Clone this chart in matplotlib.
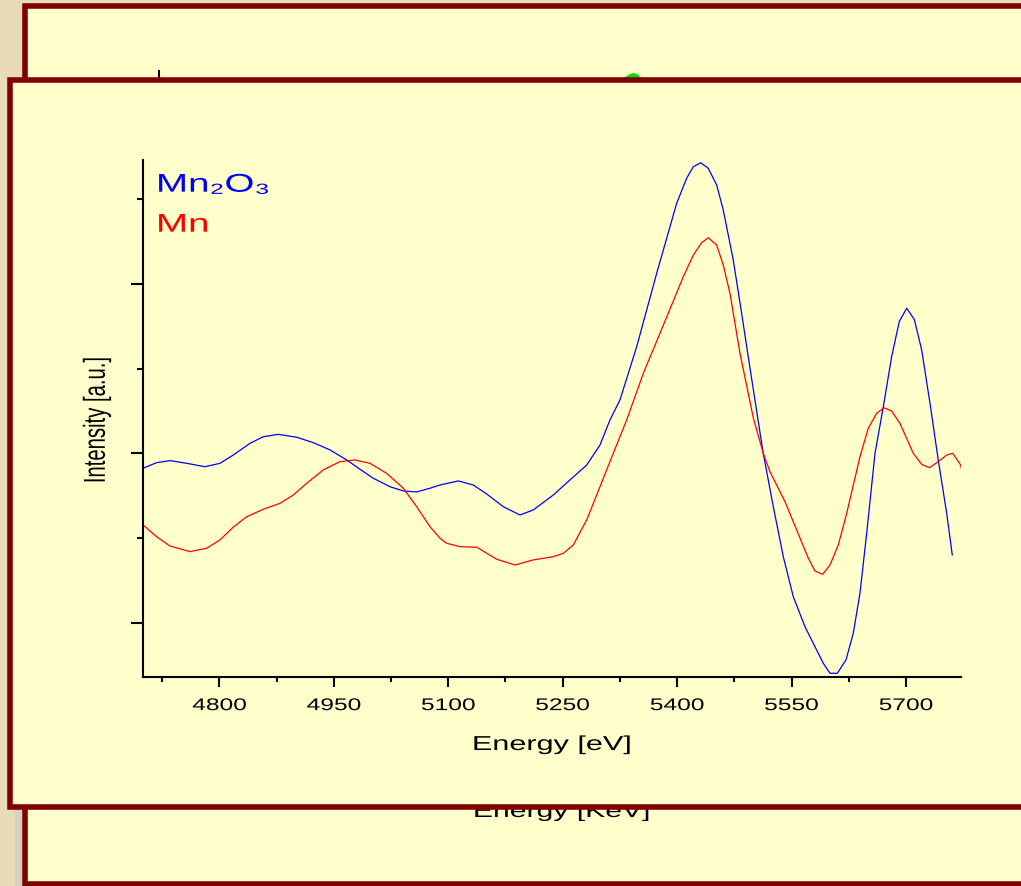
import matplotlib
matplotlib.use("Agg")
import matplotlib.pyplot as plt
import matplotlib.patheffects as pe
from matplotlib.transforms import Affine2D
from matplotlib.patches import Rectangle, Polygon
from matplotlib.ticker import MultipleLocator, FixedLocator

plt.rcParams['font.family'] = ['Liberation Sans', 'DejaVu Sans']

# ---------------- data ----------------
energy_mn2o3 = [4700, 4717.8, 4735.3, 4757.2, 4781.1, 4800.8, 4818.2, 4840.1, 4857.6, 4877.2,
                4901.3, 4923.1, 4945.0, 4966.9, 4984.3, 5001.7, 5023.6, 5041.1, 5058.6, 5076.1,
                5089.2, 5113.2, 5132.8, 5150.4, 5172.2, 5194.0, 5211.5, 5237.7, 5259.6, 5281.5,
                5298.9, 5312.0, 5325.1, 5347.0, 5373.2, 5399.4, 5412.5, 5421.2, 5430.9, 5440.9,
                5451.9, 5460.5, 5473.6, 5484.6, 5495.5, 5512.9, 5526.1, 5539.2, 5552.3, 5567.6,
                5580.7, 5591.6, 5600.4, 5610.0, 5621.4, 5630.9, 5639.7, 5648.5, 5659.4, 5670.3,
                5681.2, 5691.2, 5700.9, 5710.9, 5720.6, 5731.5, 5742.3, 5753.4, 5760.7]
intensity_mn2o3 = [91.3, 94.6, 95.8, 94.2, 92.2, 94.2, 99.1, 106.0, 109.9, 111.3,
                   109.6, 106.4, 102.1, 96.2, 90.7, 85.4, 80.4, 77.9, 77.3, 79.5,
                   81.4, 83.8, 81.4, 76.1, 68.6, 63.7, 66.7, 75.5, 84.4, 93.2,
                   105.0, 119.8, 131.6, 163.0, 206.3, 247.6, 262.4, 269.2, 271.6, 268.3,
                   258.4, 243.7, 214.2, 182.7, 150.5, 100.1, 68.6, 39.1, 15.5, -2.2,
                   -14.0, -23.8, -29.7, -29.7, -21.8, -6.1, 17.5, 52.9, 100.1, 127.6,
                   157.1, 177.8, 185.7, 179.2, 161.1, 129.6, 96.2, 64.7, 40.1]

energy_mn = [4700, 4717.8, 4735.3, 4761.5, 4783.4, 4800.8, 4818.2, 4835.8, 4857.6, 4879.5,
             4896.9, 4914.4, 4936.2, 4958.1, 4977.8, 4997.4, 5019.3, 5041.1, 5058.6, 5076.1,
             5089.2, 5098.0, 5115.4, 5137.3, 5163.5, 5187.5, 5211.5, 5237.7, 5250.8, 5263.9,
             5281.5, 5298.9, 5316.3, 5333.9, 5355.7, 5377.5, 5408.1, 5421.2, 5432.2, 5440.9,
             5451.9, 5460.5, 5469.3, 5482.4, 5499.9, 5512.9, 5521.7, 5541.4, 5556.7, 5572.0,
             5580.7, 5590.8, 5600.4, 5611.3, 5622.3, 5639.7, 5650.6, 5661.6, 5671.2, 5681.2,
             5692.1, 5709.6, 5720.6, 5730.6, 5742.3, 5753.4, 5761.3, 5771.7, 5773.0]
intensity_mn = [57.8, 50.9, 45.4, 42.1, 44.1, 49.0, 56.5, 62.7, 67.1, 70.6,
                75.5, 82.4, 90.3, 95.2, 96.2, 94.2, 88.3, 79.5, 68.6, 56.8,
                50.0, 47.0, 45.0, 44.7, 37.6, 34.2, 37.2, 39.1, 41.1, 46.0,
                60.8, 80.4, 100.1, 119.8, 147.3, 170.9, 204.3, 217.1, 224.4, 227.3,
                223.0, 211.2, 194.5, 159.1, 121.0, 100.1, 89.3, 71.6, 54.9, 38.2,
                30.7, 28.7, 34.2, 46.0, 64.7, 98.1, 114.9, 123.7, 127.0, 125.1,
                117.8, 100.1, 93.6, 91.6, 95.2, 99.1, 100.1, 93.2, 90.3]

series_names = ['Mn\u2082O\u2083', 'Mn']
series_colors = ['#0000ff', '#ff0000']
xtick_values = [4800, 4950, 5100, 5250, 5400, 5550, 5700]
xtick_labels = ['4800', '4950', '5100', '5250', '5400', '5550', '5700']
x_label = 'Energy [eV]'
y_label = 'Intensity [a.u.]'
back_x_label = 'Energy [KeV]'


# horizontal stretch of text glyphs (the slide is stretched sideways)
class HStretch(pe.AbstractPathEffect):
    def __init__(self, sx=1.6, anchor='center'):
        super().__init__()
        self.sx = sx
        self.anchor = anchor

    def draw_path(self, renderer, gc, tpath, affine, rgbFace=None):
        ext = tpath.get_extents(affine)
        if self.anchor == 'left':
            x0 = ext.x0
        elif self.anchor == 'right':
            x0 = ext.x1
        else:
            x0 = 0.5 * (ext.x0 + ext.x1)
        new = affine + Affine2D().translate(-x0, 0).scale(self.sx, 1.0).translate(x0, 0)
        renderer.draw_path(gc, tpath, new, rgbFace)


W, H = 1021, 886
fig = plt.figure(figsize=(W / 100, H / 100), dpi=100)
fig.patch.set_facecolor('#e9dbb8')

PANEL = '#ffffcc'
BORDER = '#800000'

# ---------- slide background, back panel, front panel ----------
bg = fig.add_axes([0, 0, 1, 1], zorder=-5)
bg.set_xlim(0, W)
bg.set_ylim(H, 0)
bg.axis('off')

bg.add_patch(Rectangle((15, 800), 7, 90, facecolor='#d6d0c2', edgecolor='none', zorder=0.5))
bg.add_patch(Rectangle((24.5, 6), 1100, 878, facecolor=PANEL, edgecolor=BORDER,
                       lw=4.0, zorder=1))
bg.plot([159, 159], [71, 120], color='black', lw=1.5, zorder=2)
bg.add_patch(Polygon([[621, 79], [626, 76.5], [630, 74], [634, 73], [638, 74.5], [642, 79]],
                     closed=True, facecolor='#00dd00', edgecolor='none', zorder=2))
bg.text(562, 817, back_x_label, ha='center', va='baseline', fontsize=14,
        color='black', zorder=3, path_effects=[HStretch(1.55)])
bg.add_patch(Rectangle((9.5, 79.5), 1100, 727, facecolor=PANEL, edgecolor=BORDER,
                       lw=4.0, zorder=5))

# ---------- chart ----------
ax = fig.add_axes([143.1 / W, (H - 677) / H, 817.8 / W, 517 / H], zorder=1)
ax.patch.set_alpha(0)

ax.plot(energy_mn2o3, intensity_mn2o3, color=series_colors[0], lw=0.9)
ax.plot(energy_mn, intensity_mn, color=series_colors[1], lw=0.9)

ax.set_xlim(4700, 5772)
ax.set_ylim(-31.9, 273.2)

for s in ['top', 'right']:
    ax.spines[s].set_visible(False)
for s in ['left', 'bottom']:
    ax.spines[s].set_linewidth(1.5)
    ax.spines[s].set_color('black')

ax.xaxis.set_major_locator(FixedLocator(xtick_values))
ax.set_xticklabels(xtick_labels)
ax.xaxis.set_minor_locator(MultipleLocator(75))
ax.yaxis.set_major_locator(MultipleLocator(100))
ax.yaxis.set_minor_locator(MultipleLocator(50))

ax.tick_params(axis='x', which='major', direction='out', length=7.2, width=1.5,
               pad=8.0, labelsize=12.2, colors='black')
ax.tick_params(axis='x', which='minor', direction='out', length=3.6, width=1.5)
ax.tick_params(axis='y', which='major', direction='out', length=8.6, width=1.5,
               labelleft=False)
ax.tick_params(axis='y', which='minor', direction='out', length=4.6, width=1.5)

ax.set_xlabel(x_label, fontsize=14.5, va='baseline')
ax.xaxis.set_label_coords(0.5, (677 - 750) / 517)
ax.xaxis.label.set_path_effects([HStretch(1.52)])

ax.set_ylabel(y_label, fontsize=14.6, va='center')
ax.yaxis.set_label_coords((96.7 - 143.1) / 817.8, (677 - 420) / 517)
ax.yaxis.label.set_path_effects([HStretch(1.5)])

ax.text((157 - 143.1) / 817.8, (677 - 191.7) / 517, series_names[0], transform=ax.transAxes,
        color=series_colors[0], fontsize=18.5, va='baseline', ha='left',
        path_effects=[HStretch(1.5, 'left')])
ax.text((157 - 143.1) / 817.8, (677 - 231.7) / 517, series_names[1], transform=ax.transAxes,
        color=series_colors[1], fontsize=18.5, va='baseline', ha='left',
        path_effects=[HStretch(1.5, 'left')])

fig.canvas.draw()
for t in ax.get_xticklabels():
    t.set_path_effects([HStretch(1.45)])

fig.savefig('out.png', dpi=100, facecolor=fig.get_facecolor())
